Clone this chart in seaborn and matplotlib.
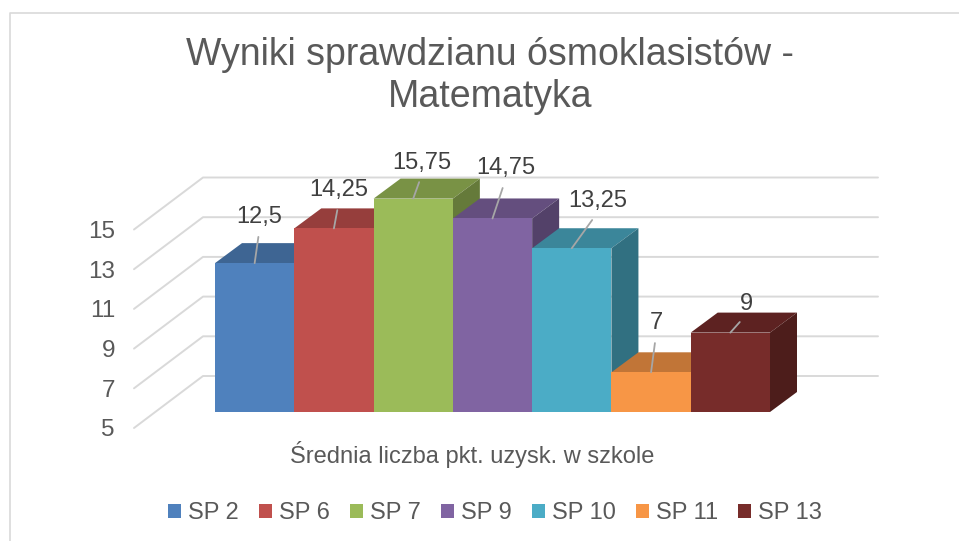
import pandas as pd
import matplotlib
matplotlib.use('Agg')
import matplotlib.pyplot as plt
from matplotlib.colors import to_rgb
from matplotlib.lines import Line2D
from matplotlib.patches import Polygon
from matplotlib.transforms import ScaledTranslation
import seaborn as sns

# values
schools = ['SP 2', 'SP 6', 'SP 7', 'SP 9', 'SP 10', 'SP 11', 'SP 13']
scores = [12.5, 14.25, 15.75, 14.75, 13.25, 7, 9]
score_labels = ['12,5', '14,25', '15,75', '14,75', '13,25', '7', '9']
y_ticks = [5, 7, 9, 11, 13, 15]
colors = ['#4F81BD', '#C0504D', '#9BBB59', '#8064A2', '#4BACC6', '#F79646', '#772C2A']

title = 'Wyniki sprawdzianu ósmoklasistów -\nMatematyka'
x_title = 'Średnia liczba pkt. uzysk. w szkole'

TEXT = '#595959'
GRID = '#D9D9D9'

sns.set_theme(style='white')
plt.rcParams['font.family'] = ['Liberation Sans', 'DejaVu Sans']

W, H = 959, 541
fig = plt.figure(figsize=(W / 100, H / 100), dpi=100)
# axes = the front plane of the bars, in pixels
left, right, base, top = 215, 770, 412, 150
ax = fig.add_axes([left / W, 1 - base / H, (right - left) / W, (base - top) / H])

df = pd.DataFrame({'school': schools, 'score': scores})
sns.barplot(data=df, x='school', y='score', hue='school', palette=colors, saturation=1,
            width=1, dodge=False, legend=True, linewidth=0, ax=ax)

px_x = (right - left) / len(schools)
px_y = 19.85
ax.set_xlim(-0.5, len(schools) - 0.5)
ax.set_ylim(5, 5 + (base - top) / px_y)

# depth of the fake 3d, in data units
bar_dx, bar_dy = 27 / px_x, 20 / px_y
wall_dx, wall_dy = -12 / px_x, 36 / px_y
floor_dx, floor_dy = -81 / px_x, -16 / px_y
grid_end = (878 - 215) / px_x - 0.5

# gridlines: side wall then back wall
for t in y_ticks:
    ax.plot([-0.5 + floor_dx, -0.5 + wall_dx, grid_end], [t + floor_dy, t + wall_dy, t + wall_dy],
            color=GRID, lw=1.4, clip_on=False, zorder=0)


def shade(color, f):
    return tuple(c * f for c in to_rgb(color))


for bar, color in zip(ax.patches, colors):
    x0, x1 = bar.get_x(), bar.get_x() + bar.get_width()
    y = bar.get_height()
    bar.set_zorder(3)
    ax.add_patch(Polygon([(x0, y), (x1, y), (x1 + bar_dx, y + bar_dy), (x0 + bar_dx, y + bar_dy)],
                         facecolor=shade(color, 0.78), edgecolor='none', clip_on=False, zorder=2))
    ax.add_patch(Polygon([(x1, 5), (x1 + bar_dx, 5 + bar_dy), (x1 + bar_dx, y + bar_dy), (x1, y)],
                         facecolor=shade(color, 0.65), edgecolor='none', clip_on=False, zorder=2))

# data labels with leader lines, offset from the bar top in pixels
label_offsets = [(5, 46), (5, 38), (9, 36), (13, 50), (26, 47), (5, 49), (16, 29)]
for i, (v, txt, off) in enumerate(zip(scores, score_labels, label_offsets)):
    ax.annotate(txt, xy=(i, v), xytext=off, textcoords='offset pixels', ha='center', va='center',
                fontsize=17, color='#404040', annotation_clip=False, zorder=5,
                arrowprops=dict(arrowstyle='-', color='#A6A6A6', lw=1.3, shrinkA=4, shrinkB=0, relpos=(0.5, 0)))

sns.despine(ax=ax, left=True, bottom=True)
ax.patch.set_alpha(0)
ax.set_xticks([])
ax.set_yticks(y_ticks)
ax.set_yticklabels([str(t) for t in y_ticks])
ax.tick_params(axis='y', length=0, pad=72, labelsize=17.5, labelcolor=TEXT)
for lab in ax.get_yticklabels():
    lab.set_transform(lab.get_transform() + ScaledTranslation(0, -16 / 100, fig.dpi_scale_trans))
ax.set_ylabel('')
ax.set_xlabel(x_title, fontsize=17, color=TEXT, x=(472 - left) / (right - left), labelpad=21)

fig.text(490 / W, 1 - 76 / H, title, ha='center', va='center', fontsize=27, color=TEXT, linespacing=1.22)

sns.move_legend(ax, 'center', bbox_to_anchor=(495 / W, 1 - 513 / H), bbox_transform=fig.transFigure,
                ncol=len(schools), title=None, frameon=False, fontsize=17, handlelength=0.55,
                handleheight=0.55, handletextpad=0.3, columnspacing=0.85, labelcolor=TEXT)

# chart frame
fig.add_artist(Line2D([10 / W, 10 / W, 1], [0, 1 - 13 / H, 1 - 13 / H], color=GRID, lw=1.2))

fig.savefig('out.png', dpi=100)
